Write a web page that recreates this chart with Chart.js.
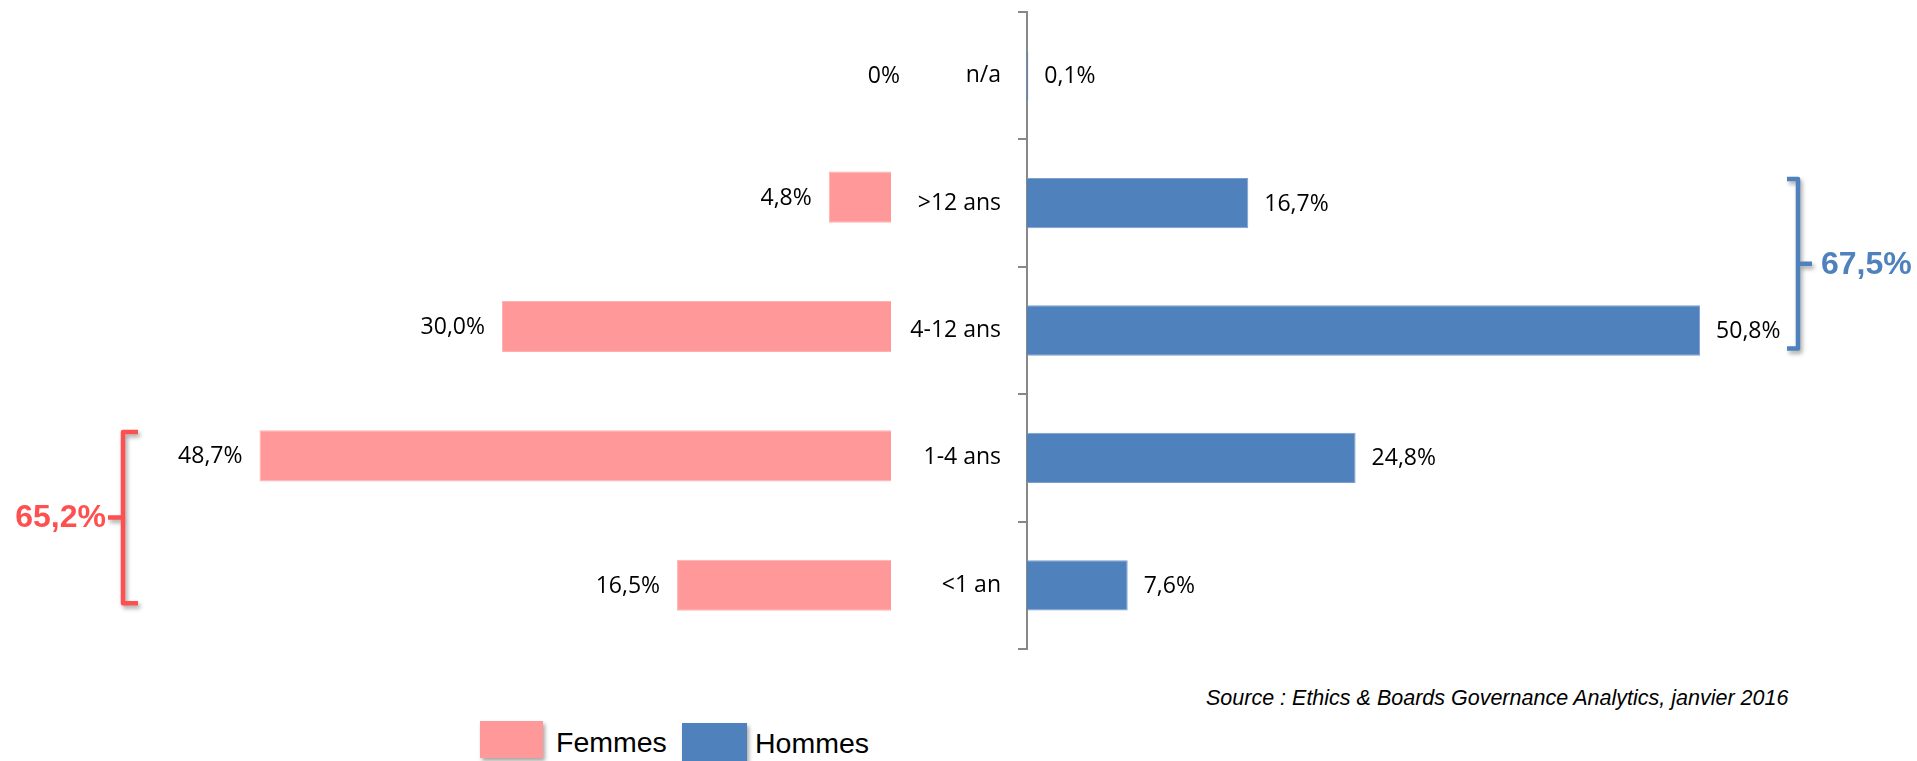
<!DOCTYPE html>
<html lang="fr">
<head>
<meta charset="utf-8">
<title>Ancienneté - Femmes / Hommes</title>
<script src="https://cdn.jsdelivr.net/npm/chart.js@4.4.1/dist/chart.umd.min.js"></script>
<style>
    html, body { margin: 0; padding: 0; background: #fff; overflow: hidden; }
    body { width: 1917px; height: 761px; position: relative; font-family: "Liberation Sans", Arial, sans-serif; }
    .chart-box { position: absolute; top: 0; height: 661px; }
    #femmes-box { left: 0; width: 900px; }
    #hommes-box { left: 900px; width: 1017px; }
    .source { position: absolute; left: 1206px; top: 688px; font-size: 21.5px; line-height: 1; font-style: italic; color: #000; white-space: nowrap; }
    .legend-swatch { position: absolute; box-shadow: 2px 3px 4px rgba(0, 0, 0, 0.35); }
    .legend-text { position: absolute; font-size: 28.5px; line-height: 1; color: #000; white-space: nowrap; }
</style>
</head>
<body>

<div class="chart-box" id="femmes-box"><canvas id="femmesChart"></canvas></div>
<div class="chart-box" id="hommes-box"><canvas id="hommesChart"></canvas></div>

<div class="source">Source : Ethics &amp; Boards Governance Analytics, janvier 2016</div>

<div class="legend-swatch" style="left:480px; top:721px; width:63px; height:37px; background:#FF9999;"></div>
<div class="legend-text" style="left:556px; top:728px;">Femmes</div>
<div class="legend-swatch" style="left:682px; top:723px; width:65px; height:40px; background:#4F81BD;"></div>
<div class="legend-text" style="left:755px; top:729px;">Hommes</div>

<script>
const categories = ["n/a", ">12 ans", "4-12 ans", "1-4 ans", "<1 an"];
const femmesValues = [0, 4.8, 30.0, 48.7, 16.5];
const hommesValues = [0.1, 16.7, 50.8, 24.8, 7.6];

const labelFont = "'Open Sans', 'Noto Sans', sans-serif";

function formatPct(v) {
    if (v === 0) return "0%";
    return v.toFixed(1).replace(".", ",") + "%";
}

// value labels next to the end of each bar
const valueLabels = {
    id: "valueLabels",
    afterDatasetsDraw(chart, args, opts) {
        const ctx = chart.ctx;
        const meta = chart.getDatasetMeta(0);
        const values = chart.data.datasets[0].data;
        ctx.save();
        ctx.font = "23px " + labelFont;
        ctx.fillStyle = "#000";
        ctx.textBaseline = "middle";
        ctx.textAlign = opts.side === "left" ? "right" : "left";
        meta.data.forEach((bar, i) => {
            let x = opts.side === "left" ? bar.x - 17 : bar.x + 16;
            let y = bar.y + 1;
            // empty bar: Excel puts the label against the axis
            if (values[i] === 0) {
                x = bar.x + 9;
                y += 8;
            }
            ctx.fillText(formatPct(values[i]), x, y);
        });
        ctx.restore();
    }
};

// curly bracket grouping two categories, with their total
const bracket = {
    id: "bracket",
    afterDraw(chart, args, opts) {
        const ctx = chart.ctx;
        const yScale = chart.scales.y;
        const values = chart.data.datasets[0].data;
        const top = yScale.getPixelForValue(opts.from) - 24;
        const bottom = yScale.getPixelForValue(opts.to) + 18;
        const mid = (top + bottom) / 2;
        const x = opts.x;
        const d = opts.dir; // direction the hooks point to

        let total = 0;
        for (let i = opts.from; i <= opts.to; i++) total += values[i];

        ctx.save();
        ctx.strokeStyle = opts.color;
        ctx.lineWidth = 4.5;
        ctx.lineJoin = "round";
        ctx.shadowColor = "rgba(0, 0, 0, 0.35)";
        ctx.shadowBlur = 4;
        ctx.shadowOffsetX = 2;
        ctx.shadowOffsetY = 3;
        ctx.beginPath();
        ctx.moveTo(x + d * opts.hook, top);
        ctx.lineTo(x, top);
        ctx.lineTo(x, bottom);
        ctx.lineTo(x + d * opts.hook, bottom);
        ctx.moveTo(x, mid);
        ctx.lineTo(x - d * opts.nub, mid);
        ctx.stroke();

        ctx.shadowColor = "transparent";
        ctx.fillStyle = opts.color;
        ctx.font = "bold 32px 'Liberation Sans', Arial, sans-serif";
        ctx.textBaseline = "middle";
        ctx.textAlign = d > 0 ? "right" : "left";
        const tx = d > 0 ? x - opts.nub - 2 : x + opts.nub + 9;
        ctx.fillText(formatPct(total), tx, mid + 1);
        ctx.restore();
    }
};

document.addEventListener("DOMContentLoaded", function () {
    new Chart(document.getElementById("femmesChart"), {
        type: "bar",
        data: {
            labels: categories,
            datasets: [{
                label: "Femmes",
                data: femmesValues,
                backgroundColor: "#FF9999",
                borderColor: "#FFB0B0",
                borderWidth: 1,
                barPercentage: 0.395,
                categoryPercentage: 1
            }]
        },
        options: {
            indexAxis: "y",
            responsive: true,
            maintainAspectRatio: false,
            animation: false,
            layout: { padding: { top: 3, bottom: 11, left: 113, right: 9 } },
            scales: {
                x: { display: false, min: 0, max: 60, reverse: true },
                y: { display: false }
            },
            plugins: {
                legend: { display: false },
                tooltip: { enabled: false },
                valueLabels: { side: "left" },
                bracket: { from: 3, to: 4, x: 123, dir: 1, hook: 15, nub: 15, color: "#FF5050" }
            }
        },
        plugins: [valueLabels, bracket]
    });

    new Chart(document.getElementById("hommesChart"), {
        type: "bar",
        data: {
            labels: categories,
            datasets: [{
                label: "Hommes",
                data: hommesValues,
                backgroundColor: "#4F81BD",
                borderColor: "#7C9FCC",
                borderWidth: 1,
                barPercentage: 0.395,
                categoryPercentage: 1
            }]
        },
        options: {
            indexAxis: "y",
            responsive: true,
            maintainAspectRatio: false,
            animation: false,
            layout: { padding: { top: 12, bottom: 12, left: 0, right: 95 } },
            scales: {
                x: { display: false, min: 0, max: 60 },
                y: {
                    grid: { drawOnChartArea: false, tickLength: 9, color: "#888", lineWidth: 2, offset: true },
                    border: { color: "#888", width: 2 },
                    ticks: { color: "#000", font: { family: labelFont, size: 23 }, padding: 17 },
                    afterFit(scale) {
                        scale.width = 127;
                        scale.paddingTop = 0;
                        scale.paddingBottom = 0;
                    }
                }
            },
            plugins: {
                legend: { display: false },
                tooltip: { enabled: false },
                valueLabels: { side: "right" },
                bracket: { from: 1, to: 2, x: 898, dir: -1, hook: 11, nub: 14, color: "#4F81BD" }
            }
        },
        plugins: [valueLabels, bracket]
    });
});
</script>
</body>
</html>
